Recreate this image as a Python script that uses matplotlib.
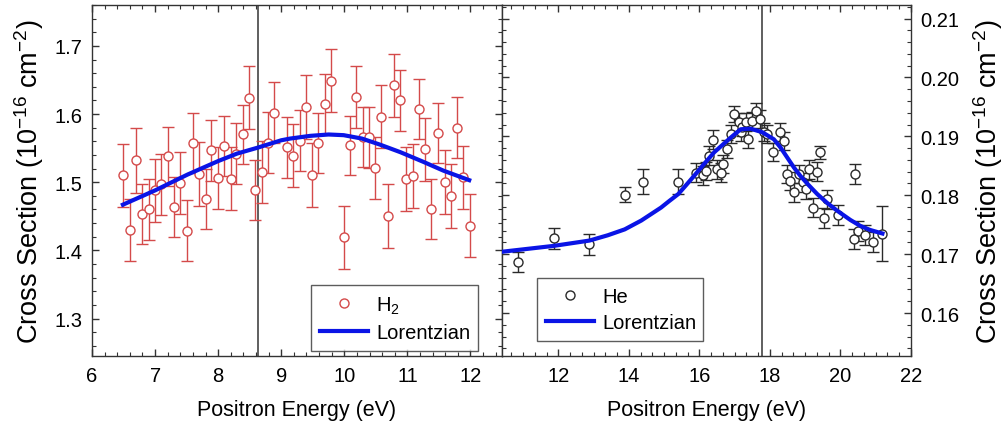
import matplotlib
matplotlib.use("Agg")
import matplotlib.pyplot as plt
from matplotlib.ticker import MultipleLocator, FormatStrFormatter
from matplotlib.lines import Line2D

plt.rcParams['font.family'] = ['Liberation Sans', 'DejaVu Sans']
plt.rcParams['mathtext.fontset'] = 'custom'
plt.rcParams['mathtext.rm'] = 'Liberation Sans'
plt.rcParams['mathtext.it'] = 'Liberation Sans'

# ---------------- H2 data (left panel) ----------------
h2_energy = [6.49, 6.60, 6.70, 6.80, 6.90, 7.00, 7.10, 7.20, 7.30, 7.40,
             7.50, 7.60, 7.70, 7.80, 7.89, 8.00, 8.09, 8.20, 8.29, 8.39,
             8.49, 8.59, 8.69, 8.79, 8.89, 9.09, 9.19, 9.29, 9.39, 9.49,
             9.59, 9.69, 9.79, 9.99, 10.09, 10.19, 10.29, 10.39, 10.49, 10.58,
             10.69, 10.79, 10.89, 10.98, 11.09, 11.18, 11.28, 11.38, 11.49, 11.59,
             11.69, 11.79, 11.88, 11.99]
h2_cross = [1.510, 1.430, 1.532, 1.454, 1.460, 1.488, 1.497, 1.538, 1.464, 1.499,
            1.429, 1.557, 1.512, 1.476, 1.547, 1.506, 1.553, 1.505, 1.542, 1.570,
            1.624, 1.489, 1.515, 1.558, 1.602, 1.551, 1.539, 1.561, 1.611, 1.511,
            1.557, 1.615, 1.649, 1.419, 1.554, 1.625, 1.566, 1.566, 1.521, 1.596,
            1.450, 1.642, 1.620, 1.505, 1.509, 1.608, 1.548, 1.461, 1.572, 1.500,
            1.480, 1.580, 1.507, 1.436]
h2_err = [0.046, 0.045, 0.048, 0.044, 0.045, 0.046, 0.045, 0.043, 0.044, 0.045,
          0.045, 0.044, 0.047, 0.044, 0.045, 0.045, 0.044, 0.046, 0.045, 0.044,
          0.046, 0.044, 0.046, 0.045, 0.045, 0.045, 0.046, 0.045, 0.047, 0.047,
          0.044, 0.044, 0.046, 0.046, 0.043, 0.046, 0.044, 0.045, 0.045, 0.046,
          0.047, 0.046, 0.045, 0.047, 0.047, 0.044, 0.046, 0.044, 0.044, 0.047,
          0.047, 0.045, 0.046, 0.046]
h2_fit_energy = [6.49, 7.00, 7.51, 8.00, 8.30, 8.62, 9.00, 9.14, 9.46, 9.75,
                 9.99, 10.28, 10.57, 10.89, 11.25, 11.57, 11.98]
h2_fit_cross = [1.467, 1.488, 1.511, 1.531, 1.542, 1.5505, 1.5615, 1.564, 1.568, 1.570,
                1.569, 1.564, 1.555, 1.544, 1.530, 1.517, 1.503]
h2_marker_energy = 8.63

# ---------------- He data (right panel) ----------------
he_energy = [10.86, 11.87, 12.88, 13.88, 14.39, 15.40, 15.90, 16.09, 16.18, 16.27,
             16.39, 16.51, 16.60, 16.67, 16.78, 16.89, 16.98, 17.12, 17.17, 17.22,
             17.31, 17.38, 17.50, 17.59, 17.73, 17.83, 17.92, 18.09, 18.28, 18.39,
             18.49, 18.58, 18.68, 18.82, 18.94, 19.03, 19.10, 19.22, 19.32, 19.41,
             19.52, 19.62, 19.92, 20.37, 20.42, 20.51, 20.70, 20.92, 21.19]
he_cross = [0.1686, 0.1727, 0.1717, 0.1801, 0.1823, 0.1823, 0.1838, 0.1834, 0.1841, 0.1867,
            0.1894, 0.1844, 0.1838, 0.1853, 0.1878, 0.1904, 0.1938, 0.1924, 0.1907, 0.1915,
            0.1924, 0.1896, 0.1926, 0.1943, 0.1929, 0.1907, 0.1904, 0.1873, 0.1907, 0.1892,
            0.1836, 0.1824, 0.1805, 0.1836, 0.1822, 0.1810, 0.1844, 0.1779, 0.1840, 0.1873,
            0.1762, 0.1793, 0.1766, 0.1725, 0.1836, 0.1740, 0.1732, 0.1720, 0.1735]
he_err = [0.0017, 0.0018, 0.0018, 0.0013, 0.0021, 0.0021, 0.0016, 0.0016, 0.0016, 0.0016,
          0.0016, 0.0016, 0.0016, 0.0015, 0.0015, 0.0015, 0.0014, 0.0015, 0.0015, 0.0015,
          0.0015, 0.0015, 0.0015, 0.0014, 0.0015, 0.0015, 0.0015, 0.0015, 0.0015, 0.0015,
          0.0015, 0.0015, 0.0016, 0.0016, 0.0016, 0.0016, 0.0016, 0.0016, 0.0016, 0.0011,
          0.0017, 0.0016, 0.0017, 0.0017, 0.0017, 0.0017, 0.0017, 0.0017, 0.0046]
he_fit_energy = [10.40, 11.87, 12.88, 13.40, 13.88, 14.35, 14.63, 14.91, 15.14, 15.40,
                 15.62, 15.85, 16.13, 16.42, 16.89, 17.17, 17.45, 17.78, 18.11, 18.30,
                 18.49, 18.68, 18.86, 19.10, 19.34, 19.62, 19.90, 20.28, 20.56, 20.84,
                 21.19]
he_fit_cross = [0.1704, 0.1714, 0.1723, 0.1732, 0.1742, 0.1757, 0.1768, 0.1779, 0.1790, 0.1802,
                0.1817, 0.1833, 0.1853, 0.1873, 0.1898, 0.1912, 0.1913, 0.1907, 0.1895, 0.1881,
                0.1864, 0.1847, 0.1833, 0.1817, 0.1802, 0.1787, 0.1774, 0.1758, 0.1748, 0.1741,
                0.1735]
he_marker_energy = 17.78

xlabel = "Positron Energy (eV)"
ylabel = "Cross Section (10$^{-16}$ cm$^{-2}$)"

RED = '#d44a4a'
DARK = '#2a2a2a'
BLUE = '#0a14e6'

fig = plt.figure(figsize=(10.05, 4.31), dpi=100)
axL = fig.add_axes([92/1005, 74/431, 410/1005, 351/431])
axR = fig.add_axes([502/1005, 74/431, 409/1005, 351/431])

def style(ax):
    for s in ax.spines.values():
        s.set_color('#333333')
        s.set_linewidth(1.0)
    ax.tick_params(which='both', direction='in', top=True, bottom=True, left=True, right=True,
                   color='#333333', labelsize=14.5, pad=7)
    ax.tick_params(which='major', length=5, width=1)
    ax.tick_params(which='minor', length=3, width=0.8)

def add_legend(ax, data_label, color, anchor):
    handles = [Line2D([], [], ls='none', marker='o', ms=6.5, mfc='white', mec=color, mew=1.0),
               Line2D([], [], color=BLUE, lw=3)]
    leg = ax.legend(handles, [data_label, 'Lorentzian'], loc='lower left', bbox_to_anchor=anchor,
                    mode='expand', borderaxespad=0, fontsize=14.5, frameon=True, fancybox=False,
                    handlelength=2.4, labelspacing=0.35, borderpad=0.45, handletextpad=0.4)
    leg.get_frame().set_edgecolor('#333333')
    leg.get_frame().set_linewidth(1.0)

# Left panel
axL.axvline(h2_marker_energy, color='#444444', lw=1.2, zorder=1)
axL.errorbar(h2_energy, h2_cross, yerr=h2_err, fmt='o', ms=6.5, mfc='white', mec=RED, mew=1.0,
             ecolor=RED, elinewidth=1.0, capsize=4.5, capthick=1.0, zorder=3)
axL.plot(h2_fit_energy, h2_fit_cross, color=BLUE, lw=3, zorder=4)
axL.set_xlim(6, 12.5)
axL.set_ylim(1.245, 1.76)
axL.xaxis.set_major_locator(MultipleLocator(1))
axL.xaxis.set_minor_locator(MultipleLocator(0.2))
axL.yaxis.set_major_locator(MultipleLocator(0.1))
axL.yaxis.set_minor_locator(MultipleLocator(0.02))
axL.yaxis.set_major_formatter(FormatStrFormatter('%.1f'))
style(axL)
axL.tick_params(labelleft=True, labelright=False)
axL.set_xticks([6, 7, 8, 9, 10, 11, 12])
axL.set_xlabel(xlabel, fontsize=15.5, labelpad=10)
axL.set_ylabel(ylabel, fontsize=19.5, labelpad=6)
add_legend(axL, 'H$_2$', RED, (0.533, 0.015, 0.408, 0.21))

# Right panel
axR.axvline(he_marker_energy, color='#444444', lw=1.2, zorder=1)
axR.errorbar(he_energy, he_cross, yerr=he_err, fmt='o', ms=6.5, mfc='white', mec=DARK, mew=1.0,
             ecolor=DARK, elinewidth=1.0, capsize=4.5, capthick=1.0, zorder=3)
axR.plot(he_fit_energy, he_fit_cross, color=BLUE, lw=3, zorder=4)
axR.set_xlim(10.4, 22)
axR.set_ylim(0.1527, 0.2123)
axR.xaxis.set_major_locator(MultipleLocator(2))
axR.xaxis.set_minor_locator(MultipleLocator(2/6))
axR.yaxis.set_major_locator(MultipleLocator(0.01))
axR.yaxis.set_minor_locator(MultipleLocator(0.002))
axR.yaxis.set_major_formatter(FormatStrFormatter('%.2f'))
style(axR)
axR.tick_params(labelleft=False, labelright=True)
axR.set_xticks([12, 14, 16, 18, 20, 22])
axR.yaxis.set_label_position('right')
axR.set_xlabel(xlabel, fontsize=15.5, labelpad=10)
axR.set_ylabel(ylabel, fontsize=19.5, labelpad=8, rotation=90)
add_legend(axR, 'He', DARK, (0.085, 0.0436, 0.407, 0.19))

fig.savefig('out.png', dpi=100)
